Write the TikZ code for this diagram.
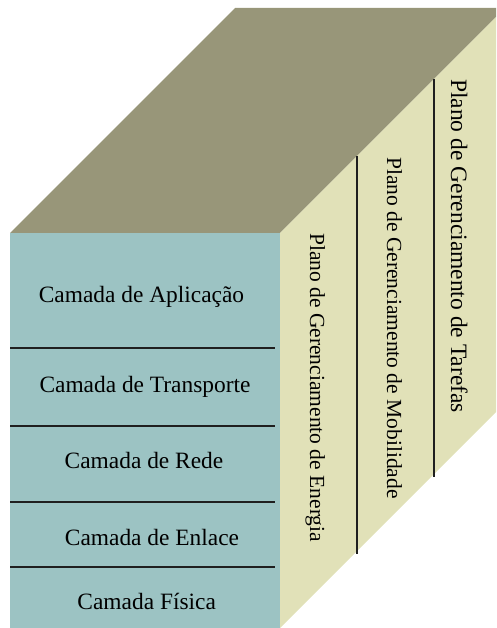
\documentclass[tikz,border=0pt]{standalone}
\usepackage{fontspec}
\setmainfont{Liberation Serif}
\definecolor{frontc}{RGB}{156,195,195}
\definecolor{topc}{RGB}{152,150,121}
\definecolor{sidec}{RGB}{225,225,184}
\begin{document}
\begin{tikzpicture}[x=1pt,y=-1pt,
  layer/.style={font=\fontsize{23.4}{28}\selectfont, anchor=base, inner sep=0pt},
  plane/.style={font=\fontsize{21.5}{26}\selectfont, rotate=-90, anchor=base west, inner sep=0pt},
  bigplane/.style={plane, font=\fontsize{23.5}{28}\selectfont},
  sepline/.style={line width=1.8pt, draw=black!88}]
\useasboundingbox (0,0) rectangle (496,628);
\begin{scope}
  \clip (0,0) rectangle (496,628);
  \fill[topc] (10,233) -- (235,8) -- (505,8) -- (280,233) -- cycle;
  \fill[sidec] (280,233) -- (505,8) -- (505,403) -- (280,628) -- cycle;
  \fill[frontc] (10,233) rectangle (280,628);
\end{scope}
% layer separators
\draw[sepline] (10,348) -- (275,348);
\draw[sepline] (10,426) -- (275,426);
\draw[sepline] (10,502) -- (275,502);
\draw[sepline] (10,567) -- (275,567);
% plane separators
\draw[sepline] (357,156) -- (357,554);
\draw[sepline] (434,79) -- (434,477);
% layer labels
\node[layer] (apl) at (141.5,302) {Camada de Aplicação};
\node[layer] (tra) at (145,392) {Camada de Transporte};
\node[layer] (red) at (144,468) {Camada de Rede};
\node[layer] (enl) at (152,545) {Camada de Enlace};
\node[layer] (fis) at (146.7,609) {Camada Física};
% plane labels
\node[plane] (ene) at (310,233) {Plano de Gerenciamento de Energia};
\node[plane] (mob) at (387,157) {Plano de Gerenciamento de Mobilidade};
\node[bigplane] (tar) at (451,79) {Plano de Gerenciamento de Tarefas};
\end{tikzpicture}
\end{document}
